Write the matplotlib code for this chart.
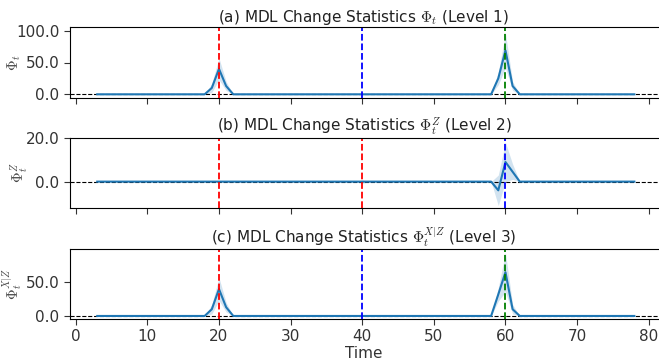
import numpy as np
import matplotlib
matplotlib.use('Agg')
from matplotlib import pyplot as plt
from matplotlib.ticker import FormatStrFormatter

plt.rcParams['font.family'] = ['DejaVu Sans']
plt.rcParams['mathtext.fontset'] = 'cm'

time = np.arange(3, 79)

# nonzero points of each mean curve, everything else is 0
peaks_1 = {19: 10.0, 20: 40.0, 21: 13.0, 59: 25.0, 60: 69.0, 61: 13.0}
peaks_2 = {59: -4.0, 60: 9.0, 61: 4.5}
peaks_3 = {19: 10.0, 20: 40.0, 21: 13.0, 59: 32.0, 60: 65.0, 61: 10.0}
# half width of the shaded band
spread_1 = {19: 7.0, 20: 17.0, 21: 7.0, 59: 10.0, 60: 27.0, 61: 7.0}
spread_2 = {40: 0.8, 59: 7.0, 60: 9.0, 61: 3.5}
spread_3 = {19: 7.0, 20: 17.0, 21: 7.0, 59: 10.0, 60: 29.0, 61: 7.0}

titles = [r'(a) MDL Change Statistics $\Phi_t$ (Level 1)',
          r'(b) MDL Change Statistics $\Phi_t^Z$ (Level 2)',
          r'(c) MDL Change Statistics $\Phi_t^{X|Z}$ (Level 3)']
ylabels = [r'$\Phi_t$', r'$\Phi_t^Z$', r'$\Phi_t^{X|Z}$']
vlines = [[(20, 'red'), (40, 'blue'), (60, 'green')],
          [(20, 'red'), (40, 'red'), (60, 'blue')],
          [(20, 'red'), (40, 'blue'), (60, 'green')]]
ylims = [(-5.8, 105.8), (-12.1, 20.0), (-4.5, 99.5)]
yticks = [[0, 50, 100], [0, 20], [0, 50]]
label_x = [-0.08, -0.068, -0.076]


def to_array(d):
    arr = np.zeros(len(time))
    for k, v in d.items():
        arr[k - 3] = v
    return arr


fig = plt.figure(figsize=(6.59, 3.6), dpi=100)
boxes = [(27, 98), (138, 208), (249, 319)]
axes = []
for i, (top, bot) in enumerate(boxes):
    ax = fig.add_axes([70 / 659, 1 - bot / 360, 588 / 659, (bot - top) / 360],
                      sharex=axes[0] if axes else None)
    axes.append(ax)

means = [to_array(peaks_1), to_array(peaks_2), to_array(peaks_3)]
spreads = [to_array(spread_1), to_array(spread_2), to_array(spread_3)]

for i, ax in enumerate(axes):
    ax.axhline(0, color='black', ls='--', lw=0.8)
    ax.fill_between(time, means[i] - spreads[i], means[i] + spreads[i],
                    color='#1f77b4', alpha=0.2, lw=0)
    ax.plot(time, means[i], color='#1f77b4', lw=1.5)
    for x, c in vlines[i]:
        ax.axvline(x, color=c, ls='--', lw=1.3)
    ax.set_ylim(*ylims[i])
    ax.set_yticks(yticks[i])
    ax.yaxis.set_major_formatter(FormatStrFormatter('%.1f'))
    ax.set_ylabel(ylabels[i], fontsize=10.5, color='#444444')
    ax.yaxis.set_label_coords(label_x[i], 0.5)
    ax.set_title(titles[i], fontsize=11, color='#222222', pad=3)
    ax.spines['right'].set_visible(False)
    ax.tick_params(labelsize=11, colors='#333333', length=4)
    if i < 2:
        ax.tick_params(labelbottom=False)

axes[0].set_xlim(-0.8, 81.3)
axes[0].set_xticks(np.arange(0, 81, 10))
axes[2].set_xlabel('Time', fontsize=11, color='#333333', labelpad=1)

plt.savefig('out.png', dpi=100)
